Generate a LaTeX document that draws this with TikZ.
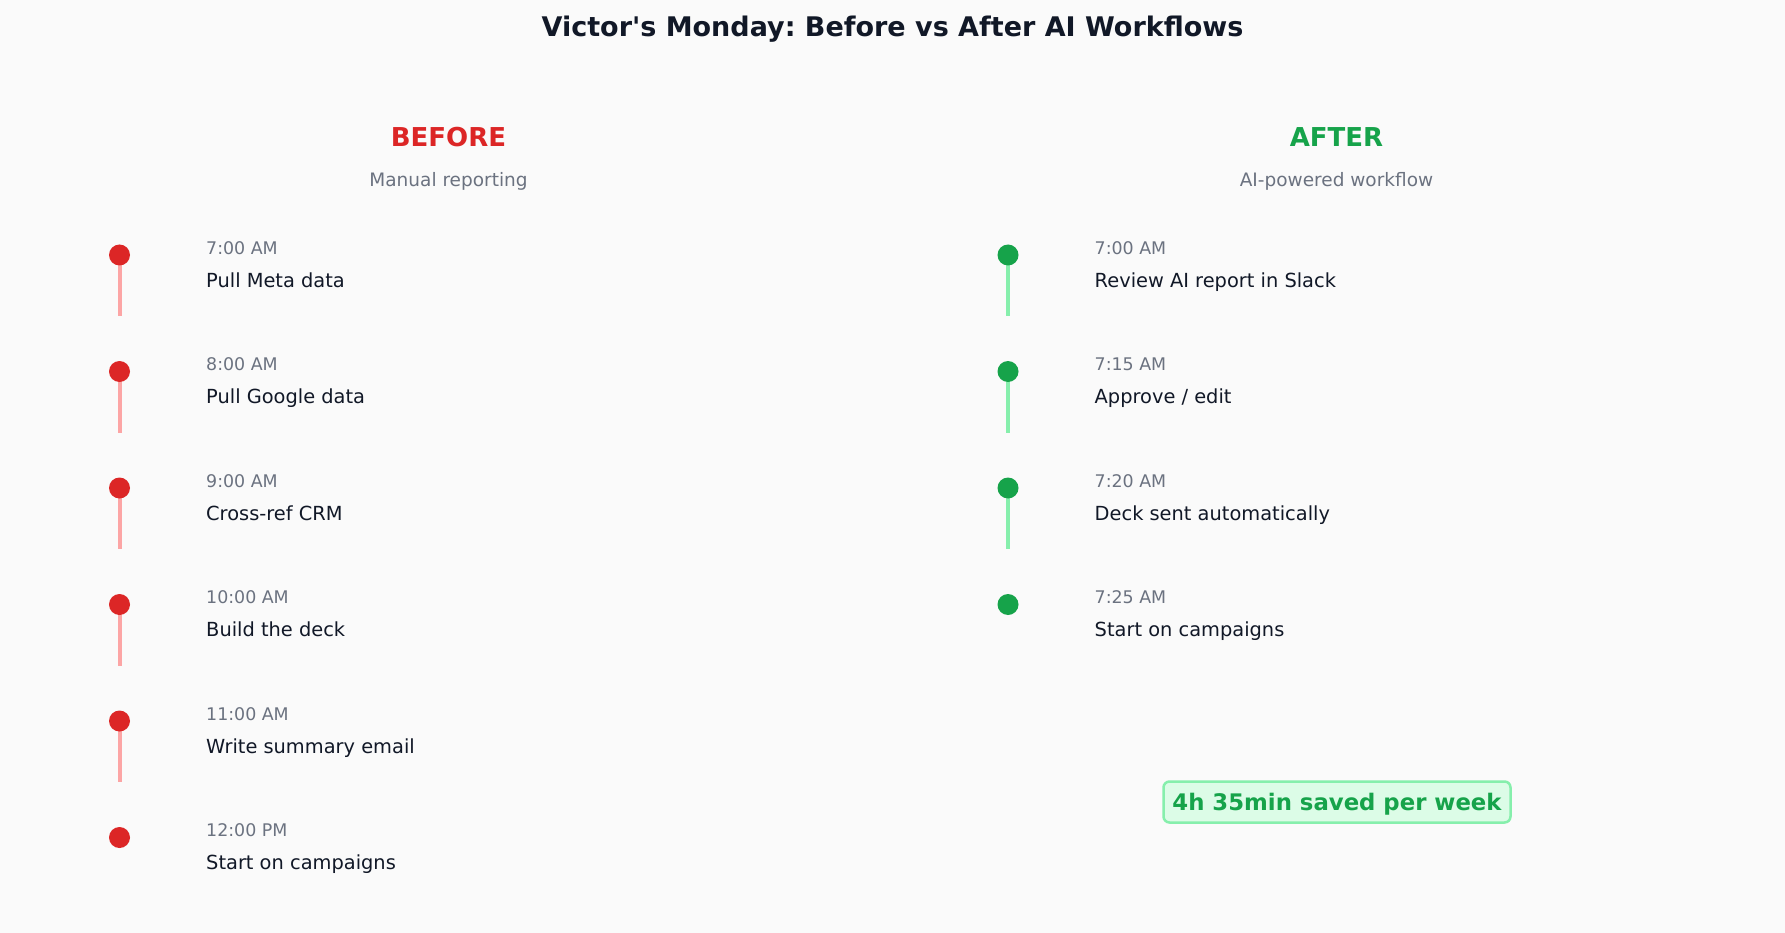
\documentclass[tikz,border=0pt]{standalone}
\usepackage{fontspec}
\setmainfont{DejaVu Sans}
\frenchspacing
\definecolor{bg}{HTML}{FAFAFA}
\definecolor{titlec}{HTML}{111827}
\definecolor{redc}{HTML}{DC2626}
\definecolor{redl}{HTML}{FCA5A5}
\definecolor{greenc}{HTML}{16A34A}
\definecolor{greenl}{HTML}{86EFAC}
\definecolor{greenbg}{HTML}{DCFCE7}
\definecolor{grayc}{HTML}{6B7280}
\tikzset{
  ttl/.style={font=\bfseries\fontsize{27}{27}\selectfont, text=titlec, inner sep=0pt},
  hdr/.style={font=\bfseries\fontsize{26}{26}\selectfont, inner sep=0pt},
  sub/.style={font=\fontsize{18.5}{18.5}\selectfont, text=grayc, inner sep=0pt},
  timetxt/.style={font=\fontsize{17.4}{17.4}\selectfont, text=grayc, inner sep=0pt, anchor=base west},
  tasktxt/.style={font=\fontsize{19.4}{19.4}\selectfont, text=titlec, inner sep=0pt, anchor=base west},
  reddot/.style={circle, fill=redc, minimum size=21pt, inner sep=0pt},
  greendot/.style={circle, fill=greenc, minimum size=21pt, inner sep=0pt},
  redline/.style={draw=redl, line width=4pt},
  greenline/.style={draw=greenl, line width=4pt},
  savebox/.style={draw=greenl, line width=2.5pt, fill=greenbg, rounded corners=6pt, text=greenc,
     font=\bfseries\fontsize{22.8}{22.8}\selectfont, minimum width=347pt, minimum height=41pt, inner sep=0pt, text depth=0pt}
}
\begin{document}
\begin{tikzpicture}[x=1pt,y=-1pt]
\fill[bg] (0,0) rectangle (1785,933);
\useasboundingbox (0,0) rectangle (1785,933);
\node[ttl] (title) at (892.5,29.5) {Victor\textquotesingle s Monday: Before vs After AI Workflows};
\node[hdr, text=redc] (before) at (448.5,137) {BEFORE};
\node[sub] (beforesub) at (448.5,181) {Manual reporting};
\node[hdr, text=greenc] (after) at (1336.5,137) {AFTER};
\node[sub] (aftersub) at (1336.5,181) {AI-powered workflow};
% before timeline
\foreach \i/\t/\task in {0/{7:00 AM}/{Pull Meta data},1/{8:00 AM}/{Pull Google data},2/{9:00 AM}/{Cross-ref CRM},3/{10:00 AM}/{Build the deck},4/{11:00 AM}/{Write summary email},5/{12:00 PM}/{Start on campaigns}}{
  \pgfmathsetmacro{\yy}{255+116.5*\i}
  \node[timetxt] (bt\i) at (206,\yy-0.6) {\t};
  \node[tasktxt] (bk\i) at (206,\yy+32.3) {\task};
}
\foreach \i in {0,...,4}{
  \pgfmathsetmacro{\yy}{255+116.5*\i}
  \coordinate (bl\i) at (119.5,\yy+61);
  \draw[redline] (119.5,\yy) -- (bl\i);
}
\foreach \i in {0,...,5}{
  \pgfmathsetmacro{\yy}{255+116.5*\i}
  \node[reddot] (bd\i) at (119.5,\yy) {};
}
% after timeline
\foreach \i/\t/\task in {0/{7:00 AM}/{Review AI report in Slack},1/{7:15 AM}/{Approve / edit},2/{7:20 AM}/{Deck sent automatically},3/{7:25 AM}/{Start on campaigns}}{
  \pgfmathsetmacro{\yy}{255+116.5*\i}
  \node[timetxt] (at\i) at (1094.5,\yy-0.6) {\t};
  \node[tasktxt] (ak\i) at (1094.5,\yy+32.3) {\task};
}
\foreach \i in {0,...,2}{
  \pgfmathsetmacro{\yy}{255+116.5*\i}
  \coordinate (al\i) at (1008,\yy+61);
  \draw[greenline] (1008,\yy) -- (al\i);
}
\foreach \i in {0,...,3}{
  \pgfmathsetmacro{\yy}{255+116.5*\i}
  \node[greendot] (ad\i) at (1008,\yy) {};
}
\node[savebox] (saved) at (1337,802) {4h 35min saved per week};
\end{tikzpicture}
\end{document}
